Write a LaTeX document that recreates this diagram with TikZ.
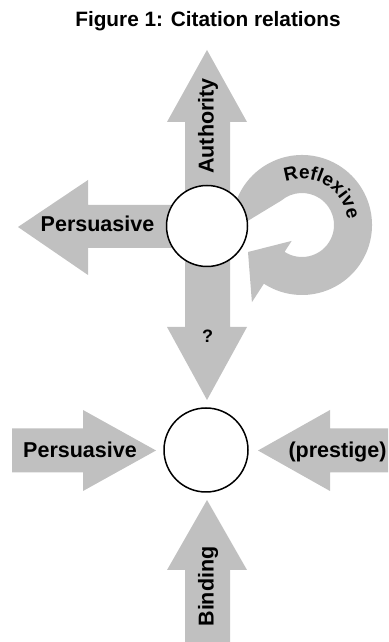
\documentclass[tikz,border=0pt]{standalone}
\usepackage{fontspec}
\setmainfont{Liberation Sans}
\usetikzlibrary{calc,decorations.text}
\definecolor{arrowgray}{RGB}{192,192,192}
\begin{document}
\begin{tikzpicture}[x=1pt,y=1pt,
  blockarrow/.style={fill=arrowgray, draw=none},
  hub/.style={circle, draw=black, line width=1.5pt, fill=white, inner sep=0pt},
  lbl/.style={font=\bfseries\fontsize{21.5}{24}\selectfont, inner sep=0pt},
  ]
\useasboundingbox (0,0) rectangle (388,642);
% title
\node[font=\bfseries\fontsize{20.8}{24}\selectfont, anchor=base, inner sep=0pt] (title) at (208,615) {Figure 1: Citation relations};
% ---------- upper part ----------
\coordinate (C) at (302,417);
% Authority + ? (double headed vertical)
\fill[blockarrow] (185,520) -- (167,520) -- (207,592) -- (247,520) -- (230,520)
  -- (230,315) -- (247,315) -- (207,242) -- (167,315) -- (185,315) -- cycle;
% upper Persuasive (pointing left)
\fill[blockarrow] (210,437) -- (88,437) -- (88,462) -- (18,415) -- (88,367) -- (88,394) -- (210,394) -- cycle;
% Reflexive loop
\fill[blockarrow] ($(C)+(160:70)$) arc[start angle=160, end angle=-123, radius=70]
  -- (251.9,339.8) -- (248,390) -- (291.7,401.1)
  -- ($(C)+(-123:32)$) arc[start angle=-123, end angle=130, radius=32]
  -- (246,420) -- cycle;
\node[hub, minimum size=81pt] (top) at (207,416) {};
% ---------- lower part ----------
\fill[blockarrow] (12,213.5) -- (83,213.5) -- (83,232) -- (156,191.5) -- (83,151) -- (83,169.5) -- (12,169.5) -- cycle;
\fill[blockarrow] (388,213.5) -- (330,213.5) -- (330,232) -- (258,191.5) -- (330,151) -- (330,169.5) -- (388,169.5) -- cycle;
\fill[blockarrow] (185,0) -- (185,72) -- (167,72) -- (207,142) -- (247,72) -- (230,72) -- (230,0) -- cycle;
\node[hub, minimum size=84pt] (bottom) at (206,192) {};
% ---------- labels ----------
\node[lbl, rotate=90, anchor=base] (authority) at (213.5,516) {Authority};
\node[lbl, anchor=base] (perstop) at (97.5,410) {Persuasive};
\node[font=\bfseries\fontsize{18}{20}\selectfont, anchor=base, inner sep=0pt] (q) at (207.5,299) {?};
\node[lbl, anchor=base] (persbot) at (80,184) {Persuasive};
\node[lbl, anchor=base] (prestige) at (337.5,184) {(prestige)};
\node[lbl, rotate=90, anchor=base] (binding) at (213.5,55.5) {Binding};
\path[decorate, decoration={text along path, text align=center,
  text={|\bfseries\fontsize{19}{21}\selectfont|Reflexive}}]
  ($(C)+(114:46)$) arc[start angle=114, end angle=4, radius=46];
\end{tikzpicture}
\end{document}
